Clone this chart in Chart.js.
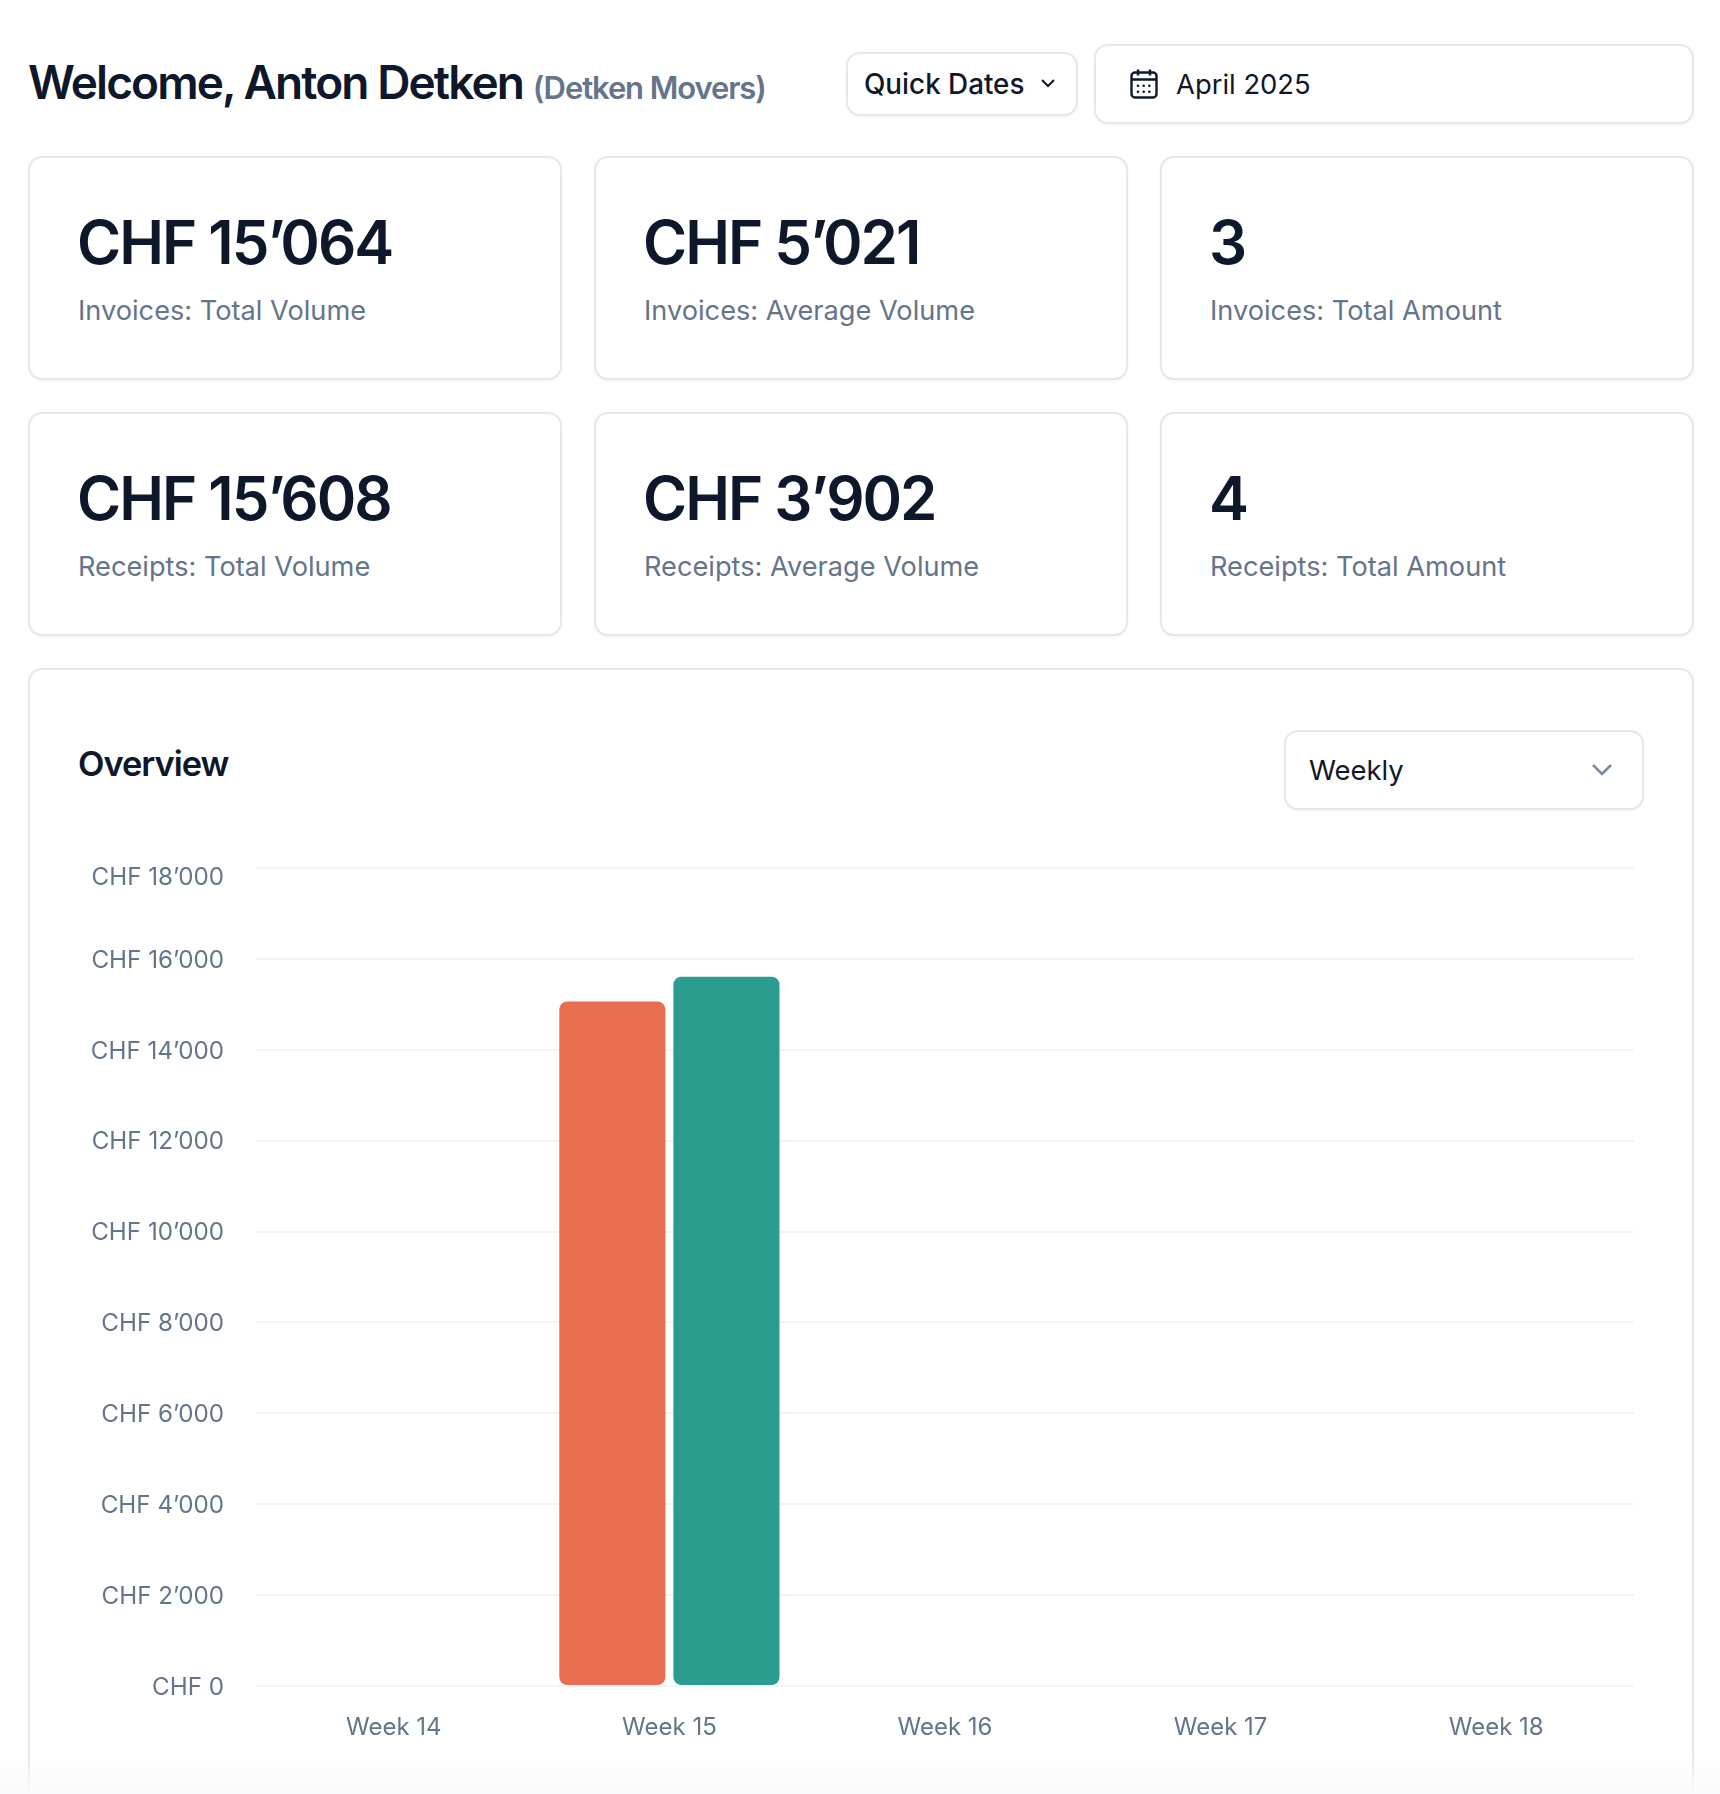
<!DOCTYPE html>
<html>
<head>
<meta charset="utf-8">
<title>Overview</title>
<script src="https://cdn.jsdelivr.net/npm/chart.js@4/dist/chart.umd.min.js"></script>
<style>
  * { box-sizing: border-box; margin: 0; padding: 0; }
  html, body { width: 1720px; height: 1794px; background: #fff; overflow: hidden; font-family: Inter, sans-serif; color: #0f172a; }
  .abs { position: absolute; white-space: nowrap; }
  .box { position: absolute; background: #fff; border: 2px solid #e2e8f0; border-radius: 14px; box-shadow: 0 1px 3px rgba(15,23,42,.05); }
  h1 { left: 28px; top: 52px; font-size: 46px; line-height: 60px; font-weight: 600; letter-spacing: -1.9px; }
  h1 span { font-size: 31px; color: #64748b; letter-spacing: -1.1px; margin-left: 0; }
  .ctl { font-size: 27.4px; line-height: 34px; }
  .big { font-size: 60px; line-height: 66px; font-weight: 600; letter-spacing: -2px; }
  .lab { font-size: 27.2px; line-height: 34px; color: #64748b; }
  #chartBox { left: 28px; top: 668px; width: 1666px; height: 1140px; }
  #fade { position: absolute; left: 0; top: 1755px; width: 1720px; height: 39px; background: linear-gradient(rgba(249,250,251,0), #f9fafb); }
  #chartWrap { position: absolute; left: 60px; top: 816px; width: 1600px; height: 944px; }
</style>
</head>
<body>
<h1 class="abs">Welcome, Anton Detken <span>(Detken Movers)</span></h1>

<div class="box" style="left:846px;top:52px;width:232px;height:64px"></div>
<div class="abs ctl" style="left:864px;top:67px;font-weight:500;font-size:27.8px">Quick Dates</div>
<svg class="abs" style="left:1040px;top:78px" width="16" height="12" fill="none" stroke="#0f172a" stroke-width="2"><path d="M2 2l6 6 6-6"/></svg>

<div class="box" style="left:1094px;top:44px;width:600px;height:80px"></div>
<svg class="abs" style="left:1130px;top:69px" width="28" height="30" fill="none" stroke="#0f172a" stroke-width="2.4">
  <rect x="1.5" y="3.5" width="25" height="25" rx="3.5"/><path d="M1.5 10.5h25M8 0.5v6M20 0.5v6"/>
  <g fill="#0f172a" stroke="none">
    <circle cx="8" cy="16.7" r="1.3"/><circle cx="13.7" cy="16.7" r="1.3"/><circle cx="19.3" cy="16.7" r="1.3"/>
    <circle cx="8" cy="22.7" r="1.3"/><circle cx="13.7" cy="22.7" r="1.3"/><circle cx="19.3" cy="22.7" r="1.3"/>
  </g>
</svg>
<div class="abs ctl" style="left:1176px;top:67px">April 2025</div>

<div id="stats"></div>

<div class="box" id="chartBox"></div>
<div class="abs" style="left:78px;top:742px;font-size:34.4px;line-height:44px;font-weight:600;letter-spacing:-1px">Overview</div>
<div class="box" style="left:1284px;top:730px;width:360px;height:80px"></div>
<div class="abs ctl" style="left:1309px;top:753px">Weekly</div>
<svg class="abs" style="left:1590px;top:762px" width="24" height="16" fill="none" stroke="#7c8ba1" stroke-width="2.6"><path d="M3 3l9 9 9-9"/></svg>

<div id="chartWrap"><canvas id="overviewChart"></canvas></div>
<div id="fade"></div>

<script>
const weeks = ["Week 14", "Week 15", "Week 16", "Week 17", "Week 18"];
const invoices = [0, 15064, 0, 0, 0];
const receipts = [0, 15608, 0, 0, 0];
const yTicks = [0, 2000, 4000, 6000, 8000, 10000, 12000, 14000, 16000, 18000];

const statValues = ["CHF 15’064", "CHF 5’021", "3", "CHF 15’608", "CHF 3’902", "4"];
const statLabels = ["Invoices: Total Volume", "Invoices: Average Volume", "Invoices: Total Amount",
                    "Receipts: Total Volume", "Receipts: Average Volume", "Receipts: Total Amount"];

const chf = v => "CHF " + String(v).replace(/\B(?=(\d{3})+$)/g, "’");

// stat cards, 3 per row
const statsEl = document.getElementById("stats");
statValues.forEach((val, i) => {
  const x = [28, 594, 1160][i % 3], y = i < 3 ? 156 : 412;
  statsEl.insertAdjacentHTML("beforeend",
    `<div class="box" style="left:${x}px;top:${y}px;width:534px;height:224px"></div>
     <div class="abs big" style="left:${x + 49}px;top:${y + 53}px">${val}</div>
     <div class="abs lab" style="left:${x + 50}px;top:${y + 138}px">${statLabels[i]}</div>`);
});

new Chart(document.getElementById("overviewChart"), {
  type: "bar",
  data: {
    labels: weeks,
    datasets: [
      { label: "Invoices", data: invoices, backgroundColor: "#e76e50" },
      { label: "Receipts", data: receipts, backgroundColor: "#2a9d8f" }
    ]
  },
  options: {
    responsive: true,
    maintainAspectRatio: false,
    animation: false,
    categoryPercentage: 0.828,
    barPercentage: 0.93,
    borderRadius: 8,
    borderSkipped: false,
    layout: { padding: { top: 28, right: 26, bottom: 0, left: 0 } },
    plugins: { legend: { display: false }, tooltip: { enabled: false } },
    scales: {
      x: {
        grid: { display: false },
        border: { display: false },
        ticks: { color: "#64748b", padding: 19, maxRotation: 0, font: { family: "Inter", size: 24 } },
        afterFit: s => { s.height = 74; }
      },
      y: {
        min: 0,
        max: 18000,
        afterBuildTicks: s => { s.ticks = yTicks.map(value => ({ value })); },
        grid: { color: "#f3f4f8", lineWidth: 2, drawTicks: false },
        border: { display: false },
        ticks: {
          color: "#64748b",
          padding: 32,
          // blank first line nudges each label down, top label sits well below its gridline
          callback: v => ["", chf(v)],
          font: ctx => ({ family: "Inter", size: 24.2, lineHeight: ctx.tick && ctx.tick.value === 18000 ? "20px" : "3px" })
        },
        afterFit: s => { s.width = 196; }
      }
    }
  }
});
</script>
</body>
</html>
